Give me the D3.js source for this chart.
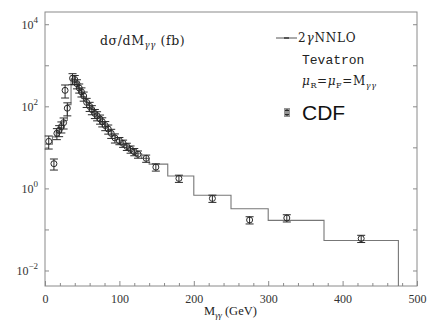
<!DOCTYPE html>
<html>
<head>
<meta charset="utf-8">
<script src="https://cdn.jsdelivr.net/npm/d3@7"></script>
<style>
body { margin: 0; background: #fff; }
</style>
</head>
<body>
<svg id="chart" width="431" height="333" font-family="Liberation Serif, DejaVu Serif, serif"></svg>
<script>
// NNLO histogram: bin edges (GeV) and values (fb/GeV)
var binEdges = [0, 10, 15, 20, 25, 30, 35, 40, 45, 50, 55, 60, 65, 70, 75, 80, 85, 90, 95, 100,
                110, 120, 130, 140, 165, 200, 250, 300, 375, 475];
var nnloValues = [12, 18, 24, 30, 45, 110, 470, 380, 260, 170, 120, 88, 66, 52, 41, 32, 25, 19, 15.5,
                  12, 9, 7, 5.4, 3.9, 2.0, 0.68, 0.32, 0.166, 0.054];

// CDF data points
var cdfMass = [5, 12, 16, 19, 22, 25, 27, 30, 37, 40, 43, 46, 49, 52, 56, 60, 63, 67, 70, 74, 77,
               81, 85, 89, 94, 100, 105, 110, 115, 120, 125, 136, 149, 180, 225, 275, 325, 425];
var cdfValues = [14, 4, 22, 26, 32, 40, 245, 90, 480, 450, 355, 280, 225, 178, 125, 100, 83, 67, 59, 49, 42,
                 34, 28, 22, 17, 14.5, 12.5, 10.5, 9, 7.8, 6.8, 5.4, 3.3, 1.75, 0.57, 0.17, 0.19, 0.06];
var cdfErr = [0.35, 0.3, 0.3, 0.3, 0.3, 0.3, 0.35, 0.35, 0.3, 0.25, 0.25, 0.25, 0.25, 0.25, 0.25, 0.25, 0.25, 0.25,
              0.25, 0.25, 0.25, 0.25, 0.25, 0.25, 0.25, 0.2, 0.2, 0.2, 0.2, 0.2, 0.2, 0.2, 0.2, 0.2, 0.2, 0.2, 0.2, 0.2];

var xTicks = d3.range(0, 501, 20);
var yTicks = [1e-2, 1e-1, 1, 1e1, 1e2, 1e3, 1e4];

var plotL = 45, plotR = 417, plotT = 12, plotB = 286;
var frameColor = "#8a8a8a";
var labelFont = "DejaVu Serif";

var svg = d3.select("#chart");

var x = d3.scaleLinear().domain([0, 500]).range([plotL, plotR]);
var y = d3.scaleLog().domain([Math.pow(10, -2.378), Math.pow(10, 4.298)]).range([plotB, plotT]);

// frame
svg.append("rect")
    .attr("x", plotL).attr("y", plotT)
    .attr("width", plotR - plotL).attr("height", plotB - plotT)
    .attr("fill", "none").attr("stroke", frameColor).attr("stroke-width", 1);

// x axis, ticks inward
var xAxis = svg.append("g")
    .attr("transform", "translate(0," + plotB + ")")
    .call(d3.axisBottom(x).tickValues(xTicks).tickSizeInner(-3).tickSizeOuter(0)
        .tickFormat(function (d) { return d % 100 === 0 ? d : ""; }));
xAxis.select(".domain").remove();
xAxis.selectAll(".tick line").attr("stroke", frameColor)
    .attr("y2", function (d) { return d % 100 === 0 ? -5 : -3; });
xAxis.selectAll(".tick text")
    .attr("font-size", 12).attr("font-family", "Liberation Serif").attr("fill", "#333")
    .attr("y", 8);

// y axis left
var yAxis = svg.append("g")
    .attr("transform", "translate(" + plotL + ",0)")
    .call(d3.axisLeft(y).tickValues(yTicks).tickSizeInner(-4).tickSizeOuter(0).tickFormat(""));
yAxis.select(".domain").remove();
yAxis.selectAll(".tick line").attr("stroke", frameColor);

// y axis right
var yAxisR = svg.append("g")
    .attr("transform", "translate(" + plotR + ",0)")
    .call(d3.axisRight(y).tickValues(yTicks).tickSizeInner(-4).tickSizeOuter(0).tickFormat(""));
yAxisR.select(".domain").remove();
yAxisR.selectAll(".tick line").attr("stroke", frameColor);

// y labels 10^n on even decades
var yLab = svg.append("g").selectAll("text")
    .data(yTicks.filter(function (d) { return Math.round(Math.log10(d)) % 2 === 0; }))
    .join("text")
    .attr("x", 38)
    .attr("y", function (d) { return y(d) + 5; })
    .attr("text-anchor", "end")
    .attr("font-size", 12)
    .attr("fill", "#333");
yLab.append("tspan").text("10");
yLab.append("tspan").attr("dy", -6).attr("font-size", 9)
    .text(function (d) { var e = Math.round(Math.log10(d)); return e < 0 ? "\u2212" + (-e) : e; });

// NNLO step histogram
var steps = [];
nnloValues.forEach(function (v, i) {
    steps.push([binEdges[i], v]);
    steps.push([binEdges[i + 1], v]);
});
var line = d3.line()
    .x(function (d) { return x(d[0]); })
    .y(function (d) { return y(d[1]); });
var pathD = line(steps) + "L" + x(binEdges[binEdges.length - 1]) + "," + plotB;
svg.append("path")
    .attr("d", pathD)
    .attr("fill", "none")
    .attr("stroke", "#777")
    .attr("stroke-width", 1.1);

// CDF points with error bars
var pts = svg.append("g").selectAll("g")
    .data(cdfMass.map(function (m, i) { return { m: m, v: cdfValues[i], e: cdfErr[i] }; }))
    .join("g")
    .attr("stroke", "#2a2a2a")
    .attr("stroke-width", 1)
    .attr("fill", "none");
pts.append("line")
    .attr("x1", function (d) { return x(d.m); })
    .attr("x2", function (d) { return x(d.m); })
    .attr("y1", function (d) { return y(d.v * (1 + d.e)); })
    .attr("y2", function (d) { return y(d.v * (1 - d.e)); });
pts.append("line")
    .attr("x1", function (d) { return x(d.m) - 4; })
    .attr("x2", function (d) { return x(d.m) + 4; })
    .attr("y1", function (d) { return y(d.v * (1 + d.e)); })
    .attr("y2", function (d) { return y(d.v * (1 + d.e)); });
pts.append("line")
    .attr("x1", function (d) { return x(d.m) - 4; })
    .attr("x2", function (d) { return x(d.m) + 4; })
    .attr("y1", function (d) { return y(d.v * (1 - d.e)); })
    .attr("y2", function (d) { return y(d.v * (1 - d.e)); });
pts.append("circle")
    .attr("cx", function (d) { return x(d.m); })
    .attr("cy", function (d) { return y(d.v); })
    .attr("r", 3);

// title
var title = svg.append("text").attr("x", 100).attr("y", 45).attr("font-size", 12.5)
    .attr("font-family", labelFont).attr("letter-spacing", 0.6).attr("fill", "#222");
title.append("tspan").text("d\u03c3/dM");
title.append("tspan").attr("dy", 3).attr("font-size", 8.5).attr("font-style", "italic").text("\u03b3\u03b3");
title.append("tspan").attr("dy", -3).text(" (fb)");

// legend
svg.append("line").attr("x1", 276).attr("x2", 297).attr("y1", 38).attr("y2", 38)
    .attr("stroke", "#555").attr("stroke-width", 1);
svg.append("rect").attr("x", 284).attr("y", 37).attr("width", 5).attr("height", 2).attr("fill", "#555");
var l1 = svg.append("text").attr("x", 298).attr("y", 42).attr("font-size", 12)
    .attr("font-family", labelFont).attr("letter-spacing", 0.8).attr("fill", "#222");
l1.append("tspan").text("2");
l1.append("tspan").attr("font-style", "italic").text("\u03b3");
l1.append("tspan").text("NNLO");

svg.append("text").attr("x", 302).attr("y", 64).attr("font-size", 13).attr("fill", "#222")
    .attr("font-family", "Liberation Mono").text("Tevatron");

var l3 = svg.append("text").attr("x", 302).attr("y", 85).attr("font-size", 12)
    .attr("font-family", labelFont).attr("letter-spacing", 0.6).attr("fill", "#222");
l3.append("tspan").attr("font-style", "italic").text("\u03bc");
l3.append("tspan").attr("dy", 3).attr("font-size", 8).text("R");
l3.append("tspan").attr("dy", -3).text("=");
l3.append("tspan").attr("font-style", "italic").text("\u03bc");
l3.append("tspan").attr("dy", 3).attr("font-size", 8).text("F");
l3.append("tspan").attr("dy", -3).text("=M");
l3.append("tspan").attr("dy", 3).attr("font-size", 8).attr("font-style", "italic").text("\u03b3\u03b3");

// CDF legend symbol
var ls = svg.append("g").attr("stroke", "#2a2a2a").attr("fill", "none");
ls.append("line").attr("x1", 284).attr("x2", 290).attr("y1", 109).attr("y2", 109);
ls.append("line").attr("x1", 284).attr("x2", 290).attr("y1", 116).attr("y2", 116);
ls.append("line").attr("x1", 287).attr("x2", 287).attr("y1", 109).attr("y2", 116);
ls.append("rect").attr("x", 285).attr("y", 110.5).attr("width", 4).attr("height", 4);
svg.append("text").attr("x", 302).attr("y", 120).attr("font-size", 21)
    .attr("font-family", "Liberation Sans").attr("fill", "#111").text("CDF");

// x title
var xt = svg.append("text").attr("x", 204).attr("y", 315).attr("font-size", 12.5).attr("fill", "#222");
xt.append("tspan").text("M");
xt.append("tspan").attr("dy", 3).attr("font-size", 8.5).attr("font-style", "italic").text("\u03b3\u03b3");
xt.append("tspan").attr("dy", -3).text("  (GeV)");
</script>
</body>
</html>
